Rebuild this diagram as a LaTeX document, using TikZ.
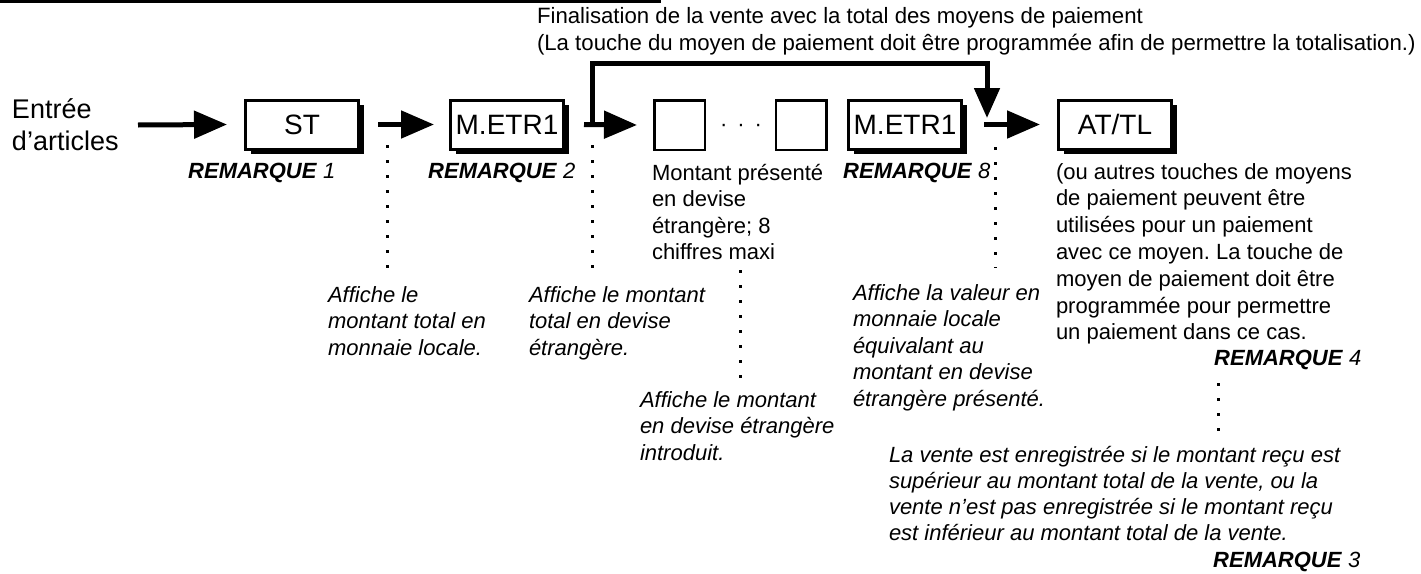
\documentclass[tikz,border=0pt]{standalone}
\usepackage{fontspec}
\setmainfont{Liberation Sans}
\usetikzlibrary{arrows.meta,shadows}
\frenchspacing
\begin{document}
\begin{tikzpicture}[x=1pt,y=-1pt,
  txt/.style={anchor=north west, inner sep=0pt, outer sep=0pt, align=left, font=\fontsize{22}{26.5}\selectfont},
  itxt/.style={txt, font=\fontsize{22}{26.5}\selectfont\itshape},
  rem/.style={anchor=base west, inner sep=0pt, font=\fontsize{22}{26.5}\selectfont},
  keybox/.style={draw, line width=3pt, fill=white, minimum width=113pt, minimum height=49pt, inner sep=0pt,
    font=\fontsize{28}{28}\selectfont, text height=20pt, text depth=0pt,
    drop shadow={shadow xshift=5pt, shadow yshift=-5pt, fill=black, opacity=1}},
  emptybox/.style={draw, line width=2.5pt, fill=white, minimum width=50.5pt, minimum height=49.5pt, inner sep=0pt},
  arr/.style={line width=5pt, -{Triangle[length=33pt,width=27pt]}},
  arrdown/.style={line width=5pt, -{Triangle[length=30pt,width=25pt]}},
  dotline/.style={line width=3pt, dash pattern=on 3pt off 12pt}
]
\useasboundingbox (0,0) rectangle (1421,573);

% top rule
\coordinate (rule0) at (0,1.5);
\coordinate (rule1) at (661,1.5);
\draw[line width=3pt] (rule0) -- (rule1);

% title
\node[txt, font=\fontsize{22.2}{27}\selectfont] (title) at (537,{23-18.9})
  {\strut Finalisation de la vente avec la total des moyens de paiement\\(La touche du moyen de paiement doit être programmée afin de permettre la totalisation.)};

% entry text
\node[txt, font=\fontsize{27}{32}\selectfont] (entree) at (12,{118-22.4}) {\strut Entrée\\d’articles};

% keys
\node[keybox] (st) at (302,124.5) {ST};
\node[keybox] (m1) at (507,124.5) {M.ETR1};
\node[emptybox] (e1) at (679.5,125) {};
\node[emptybox] (e2) at (801,125) {};
\node[keybox] (m2) at (905,124.5) {M.ETR1};
\node[keybox] (at) at (1115,124.5) {AT/TL};
\node[anchor=base, inner sep=0pt, font=\fontsize{22}{26.5}\selectfont] (dots) at (741,131) {·\kern10pt·\kern10pt·};

% arrows
\coordinate (in0) at (138,125);
\draw[arr] (in0) -- ([xshift=-17pt]st.west);
\draw[arr] ([xshift=18pt]st.east) -- ([xshift=-15pt]m1.west);
\draw[arr] ([xshift=19pt]m1.east) -- ([xshift=-16pt]e1.west);
\draw[arr] ([xshift=21pt]m2.east) -- ([xshift=-17pt]at.west);

% loop arrow
\coordinate (lp0) at (592,125);
\coordinate (lp1) at (592,63);
\coordinate (lp2) at (987,118);
\draw[arrdown] (lp0) -- (lp1) -| (lp2);

% remarks
\node[rem] (r1) at (188,178) {\textbf{\textit{REMARQUE}} \textit{1}};
\node[rem] (r2) at (428,178) {\textbf{\textit{REMARQUE}} \textit{2}};
\node[rem] (r8) at (843,178) {\textbf{\textit{REMARQUE}} \textit{8}};
\node[rem] (r4) at (1214,365) {\textbf{\textit{REMARQUE}} \textit{4}};
\node[rem] (r3) at (1213,567) {\textbf{\textit{REMARQUE}} \textit{3}};

% descriptive texts
\node[txt] (mont) at (652,{180-18.55}) {\strut Montant présenté\\en devise\\étrangère; 8\\chiffres maxi};
\node[txt, font=\fontsize{22}{26.8}\selectfont] (autres) at (1056,{179-18.76})
  {\strut (ou autres touches de moyens\\de paiement peuvent être\\utilisées pour un paiement\\avec ce moyen. La touche de\\moyen de paiement doit être\\programmée pour permettre\\un paiement dans ce cas.};

\node[itxt] (aff1) at (328,{302-18.55}) {\strut Affiche le\\montant total en\\monnaie locale.};
\node[itxt] (aff2) at (529,{302-18.55}) {\strut Affiche le montant\\total en devise\\étrangère.};
\node[itxt] (aff3) at (640,{407-18.55}) {\strut Affiche le montant\\en devise étrangère\\introduit.};
\node[itxt] (aff4) at (853,{300-18.55}) {\strut Affiche la valeur en\\monnaie locale\\équivalant au\\montant en devise\\étrangère présenté.};
\node[itxt, font=\fontsize{22}{26}\selectfont\itshape] (vente) at (889,{462-18.2})
  {\strut La vente est enregistrée si le montant reçu est\\supérieur au montant total de la vente, ou la\\vente n’est pas enregistrée si le montant reçu\\est inférieur au montant total de la vente.};

% dotted leaders
\coordinate (d1a) at (387,145); \coordinate (d1b) at (387,268);
\coordinate (d2a) at (592,145); \coordinate (d2b) at (592,268);
\coordinate (d3a) at (740,270); \coordinate (d3b) at (740,378);
\coordinate (d4a) at (995,147); \coordinate (d4b) at (995,268);
\coordinate (d5a) at (1218,383); \coordinate (d5b) at (1218,431);
\draw[dotline] (d1a) -- (d1b);
\draw[dotline] (d2a) -- (d2b);
\draw[dotline] (d3a) -- (d3b);
\draw[dotline] (d4a) -- (d4b);
\draw[dotline] (d5a) -- (d5b);
\end{tikzpicture}
\end{document}
